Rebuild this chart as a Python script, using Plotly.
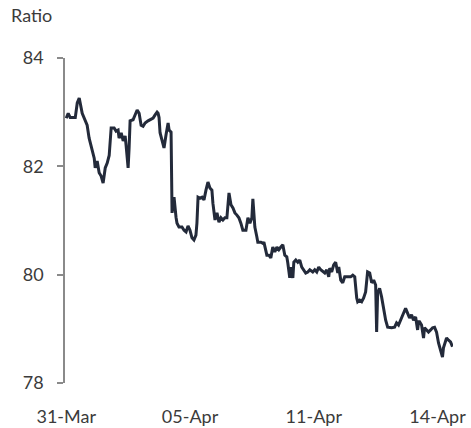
import plotly.graph_objects as go

# time index (0 = 31-Mar, 100 = 05-Apr, 200 = 11-Apr, 300 = 14-Apr)
t = [0, 1.6, 3.2, 7.3, 8.9, 10.5, 12.9, 15.3, 16.9, 18.5, 21.0, 22.6, 23.4, 25.0, 26.6, 28.2, 29.8,
     31.5, 33.1, 34.7, 36.3, 38.7, 40.3, 41.9, 42.7, 44.4, 46.0, 47.6, 48.4, 50.0, 50.8, 51.6, 54.0,
     55.6, 57.3, 58.9, 60.5, 62.1, 63.7, 66.1, 67.7, 70.2, 71.8, 73.4, 74.2, 75.0, 75.8, 77.4, 79.0,
     80.6, 82.3, 83.1, 84.7, 85.5, 87.1, 88.7, 89.5, 91.1, 93.5, 95.2, 96.8, 98.4, 100.0, 101.6,
     103.2, 104.8, 105.6, 106.5, 108.1, 109.7, 111.3, 112.9, 114.5, 116.1, 117.7, 118.5, 120.2,
     121.8, 123.4, 125.0, 126.6, 128.2, 129.8, 131.5, 133.1, 134.7, 136.3, 137.9, 139.5, 141.1,
     142.7, 145.2, 146.8, 148.4, 150.0, 150.8, 151.6, 152.4, 154.0, 154.8, 157.3, 158.9, 159.7,
     161.3, 162.1, 163.7, 165.3, 166.9, 168.5, 170.2, 171.8, 173.4, 175.0, 176.6, 178.2, 179.0,
     180.6, 181.5, 183.1, 183.9, 185.5, 187.1, 188.7, 190.3, 191.9, 193.5, 195.2, 196.8, 199.2,
     200.8, 202.4, 204.0, 205.6, 207.3, 208.9, 210.5, 212.1, 212.9, 214.5, 216.1, 217.7, 219.4,
     220.2, 221.8, 223.4, 225.0, 227.4, 229.8, 231.5, 233.1, 234.7, 235.5, 237.1, 238.7, 240.3,
     241.9, 243.5, 245.2, 246.8, 248.4, 250.0, 250.8, 251.6, 253.2, 254.8, 256.5, 258.1, 259.7,
     261.3, 262.9, 265.3, 266.9, 268.5, 270.2, 271.8, 273.4, 274.2, 275.8, 277.4, 279.0, 280.6,
     282.3, 283.9, 284.7, 285.5, 287.1, 288.7, 289.5, 291.1, 292.7, 294.4, 296.0, 297.6, 299.2,
     300.8, 302.4, 304.0, 304.8, 306.5, 307.3, 308.9, 310.5, 312.1]

ratio = [82.89, 82.98, 82.90, 82.90, 83.17, 83.26, 82.98, 82.84, 82.76, 82.52, 82.30, 82.15, 81.97,
         82.10, 81.88, 81.82, 81.69, 81.97, 82.06, 82.20, 82.71, 82.71, 82.65, 82.67, 82.52, 82.62,
         82.47, 82.56, 82.38, 81.97, 82.34, 82.84, 82.86, 82.95, 83.04, 82.98, 82.76, 82.74, 82.80,
         82.84, 82.86, 82.89, 82.95, 83.00, 82.98, 82.90, 82.62, 82.45, 82.34, 82.58, 82.80, 82.67,
         82.63, 81.14, 81.43, 81.06, 80.95, 80.88, 80.88, 80.82, 80.79, 80.90, 80.82, 80.68, 80.64,
         80.73, 80.95, 81.43, 81.41, 81.43, 81.38, 81.56, 81.71, 81.60, 81.56, 81.32, 81.01, 81.14,
         80.97, 81.05, 81.01, 81.05, 81.05, 81.51, 81.29, 81.23, 81.14, 81.10, 81.05, 80.95, 80.82,
         80.82, 81.05, 80.95, 81.05, 81.40, 81.19, 80.88, 80.70, 80.60, 80.60, 80.58, 80.60, 80.40,
         80.36, 80.36, 80.31, 80.51, 80.42, 80.51, 80.46, 80.51, 80.55, 80.36, 80.33, 80.22, 79.94,
         80.14, 79.94, 80.23, 80.27, 80.23, 80.27, 80.14, 80.09, 80.03, 80.05, 80.09, 80.05, 80.09,
         80.05, 80.14, 80.09, 80.05, 80.03, 80.09, 79.96, 80.12, 80.05, 80.18, 80.23, 80.03, 80.14,
         79.90, 79.85, 79.96, 79.96, 79.96, 79.99, 79.96, 79.57, 79.50, 79.53, 79.50, 79.57, 79.68,
         80.05, 80.03, 79.85, 79.90, 79.81, 78.94, 79.66, 79.75, 79.59, 79.35, 79.16, 79.03, 79.02,
         79.02, 79.03, 79.11, 79.07, 79.16, 79.22, 79.31, 79.38, 79.29, 79.20, 79.26, 79.16, 79.22,
         78.98, 79.13, 79.13, 79.07, 78.83, 79.02, 78.98, 78.94, 78.98, 79.02, 79.03, 78.94, 78.74,
         78.61, 78.48, 78.65, 78.76, 78.83, 78.79, 78.76, 78.67]

tick_pos = [0, 100, 200, 300]
tick_labels = ["31-Mar", "05-Apr", "11-Apr", "14-Apr"]
y_ticks = [78, 80, 82, 84]

FONT = "Lato"
TXT = "#3b3b3b"

fig = go.Figure(go.Scatter(x=t, y=ratio, mode="lines",
                           line=dict(color="#232a3a", width=3), hoverinfo="skip"))

fig.update_layout(
    width=471, height=428,
    margin=dict(l=65, r=18, t=58, b=45, autoexpand=False),
    paper_bgcolor="white", plot_bgcolor="white",
    showlegend=False,
    font=dict(family=FONT, size=18, color=TXT),
    xaxis=dict(range=[-1, 312.5], tickmode="array", tickvals=tick_pos, ticktext=tick_labels,
               showline=False, showgrid=False, zeroline=False, ticks="", automargin=False,
               ticklabelstandoff=21, tickfont=dict(size=18, color=TXT)),
    yaxis=dict(range=[78, 84], tickmode="array", tickvals=y_ticks, automargin=False,
               showline=True, linecolor="#8a8a8a", linewidth=1.5,
               ticks="outside", ticklen=6, tickcolor="#8a8a8a", tickwidth=1.5,
               showgrid=False, zeroline=False, ticklabelstandoff=10,
               tickfont=dict(size=18, color=TXT)),
    annotations=[dict(text="Ratio", xref="paper", yref="paper",
                      x=-56 / 388, xanchor="left", y=1 + (58 - 15) / 325, yanchor="middle",
                      showarrow=False, font=dict(size=18, color=TXT))],
)

fig.write_html("out.html")
